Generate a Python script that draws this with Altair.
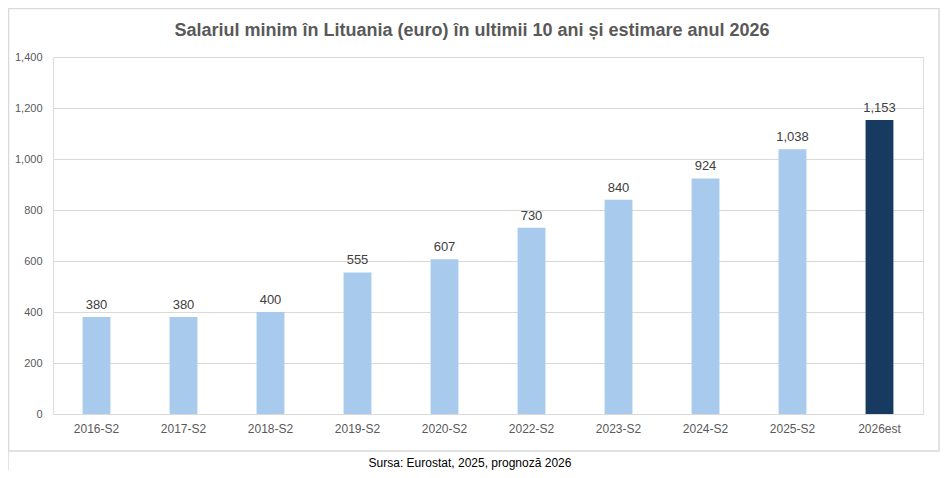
import altair as alt
import pandas as pd

categories = ["2016-S2", "2017-S2", "2018-S2", "2019-S2", "2020-S2",
              "2022-S2", "2023-S2", "2024-S2", "2025-S2", "2026est"]
values = [380, 380, 400, 555, 607, 730, 840, 924, 1038, 1153]
kinds = ["actual"] * 9 + ["estimate"]
title_text = "Salariul minim în Lituania (euro) în ultimii 10 ani și estimare anul 2026"
source_text = "Sursa: Eurostat, 2025, prognoză 2026"

df = pd.DataFrame({"cat": categories, "val": values, "kind": kinds})

FONT = "Liberation Sans"
W, H = 870, 357

x_enc = alt.X("cat:N", sort=categories,
              scale=alt.Scale(paddingInner=0.68, paddingOuter=0.34),
              axis=alt.Axis(title=None,
                            labelAngle=0, labelFont=FONT, labelFontSize=12,
                            labelColor="#595959", labelPadding=9,
                            ticks=False, domainColor="#d9d9d9"))
y_enc = alt.Y("val:Q",
              scale=alt.Scale(domain=[0, 1400]),
              axis=alt.Axis(title=None, values=list(range(0, 1401, 200)),
                            format=",.0f", labelFont=FONT, labelFontSize=11,
                            labelColor="#595959", labelPadding=11,
                            ticks=False, domain=False, gridColor="#d9d9d9"))

bars = alt.Chart(df).mark_bar().encode(
    x=x_enc, y=y_enc,
    color=alt.Color("kind:N", scale=alt.Scale(domain=["actual", "estimate"],
                                              range=["#a7caed", "#163a60"]),
                    legend=None),
)

labels = alt.Chart(df).mark_text(dy=-12, font=FONT, fontSize=13, color="#404040").encode(
    x=alt.X("cat:N", sort=categories), y="val:Q", text=alt.Text("val:Q", format=",")
)

one = pd.DataFrame({"a": [0], "title": [title_text], "source": [source_text]})
border = alt.Chart(one).mark_rect(fill=None, stroke="#d9d9d9", strokeWidth=1.5).encode(
    x=alt.value(-44.5), x2=alt.value(886), y=alt.value(-48.5), y2=alt.value(394)
)
src_line = alt.Chart(one).mark_rule(color="#e3e3e3", strokeWidth=1.2).encode(
    x=alt.value(-44.5), x2=alt.value(886), y=alt.value(414.5)
)
src_left = alt.Chart(one).mark_rule(color="#e3e3e3", strokeWidth=1.2).encode(
    x=alt.value(-44.5), y=alt.value(394), y2=alt.value(414.5)
)
title = alt.Chart(one).mark_text(font=FONT, fontSize=18, fontWeight="bold",
                                 color="#595959", baseline="middle").encode(
    x=alt.value(419), y=alt.value(-26), text="title:N"
)
source = alt.Chart(one).mark_text(font=FONT, fontSize=12, color="#000000",
                                  baseline="middle").encode(
    x=alt.value(417), y=alt.value(406), text="source:N"
)

chart = alt.layer(border, src_line, src_left, bars, labels, title, source).properties(
    width=W, height=H,
    autosize=alt.AutoSizeParams(type="none"),
    padding={"left": 45, "top": 49, "right": 18, "bottom": 56},
).configure_view(stroke=None).configure(background="white")

chart.save("out.html", embed_options={"renderer": "svg", "actions": False})
